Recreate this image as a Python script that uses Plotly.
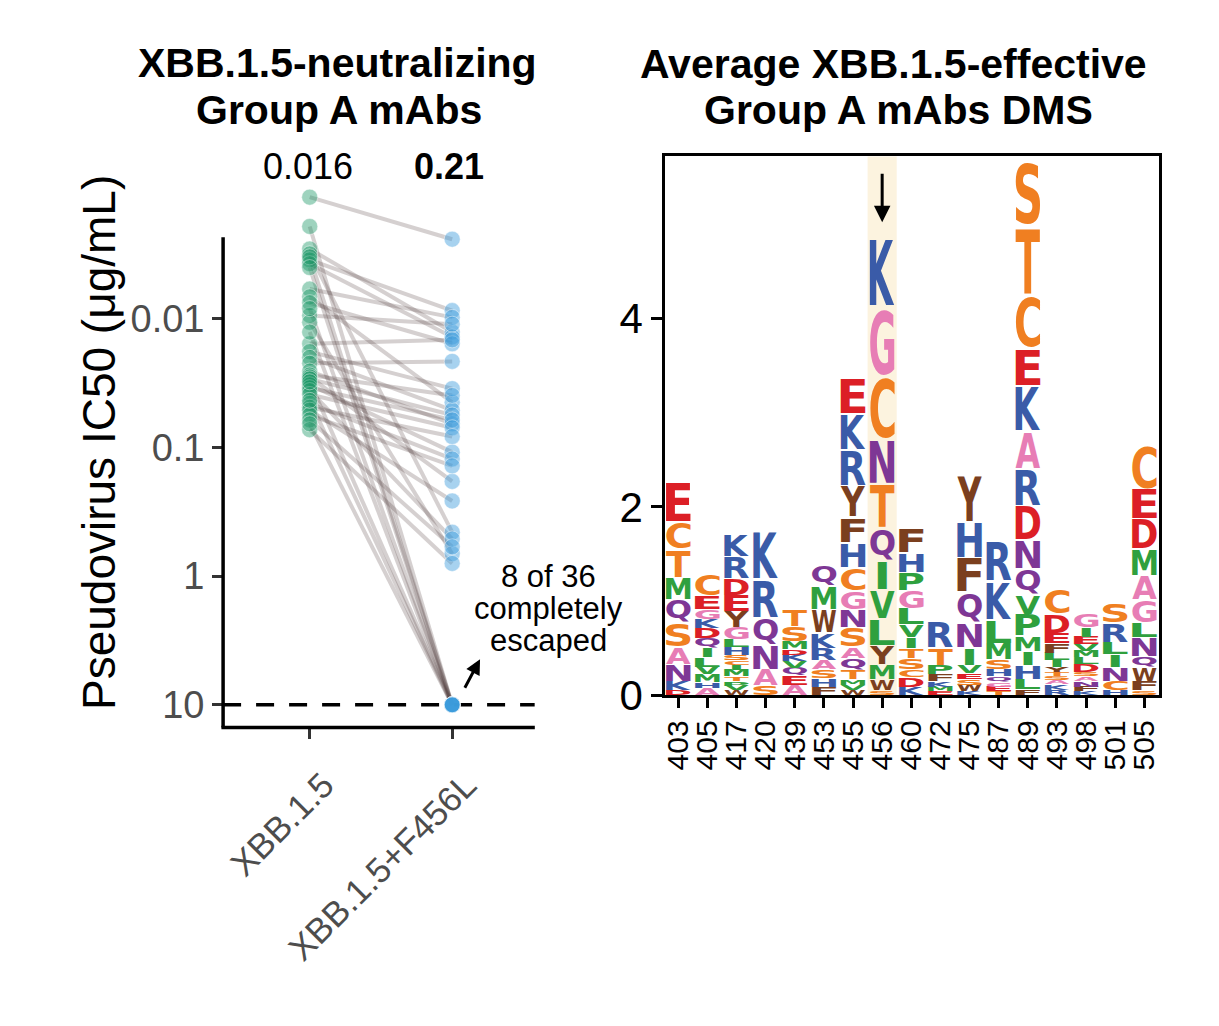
import plotly.graph_objects as go

# ---------------- data: left panel (IC50, ug/mL), index-paired ----------------
groups = ["XBB.1.5", "XBB.1.5+F456L"]
xbb15_ic50 = [0.00113, 0.00286, 0.00312, 0.00347, 0.00372, 0.00586, 0.00673, 0.00748,
              0.00939, 0.01062, 0.01560, 0.01795, 0.01992, 0.02212, 0.02544, 0.02728,
              0.02825, 0.02925, 0.03251, 0.03426, 0.03609, 0.03870, 0.04530, 0.04858,
              0.05118, 0.05585, 0.06095, 0.07261,
              0.00191, 0.00329, 0.00399, 0.00831, 0.01265, 0.03083, 0.04299, 0.06536]
f456l_ic50 = [0.00240, 0.01265, 0.4550, 0.00861, 0.01380, 0.00973, 0.04448, 0.01560,
              0.01099, 0.6686, 0.01454, 0.03484, 0.05118, 0.02138, 0.06536, 0.03937,
              0.1834, 0.05585, 0.1086, 0.06095, 0.5140, 0.07015, 0.1227, 0.08205,
              0.2601, 0.1387, 0.5916, 0.7960,
              10, 10, 10, 10, 10, 10, 10, 10]
geo_means = ["0.016", "<b>0.21</b>"]
y_ticks = [0.01, 0.1, 1, 10]
y_ticktext = ["0.01", "0.1", "1", "10"]

# ---------------- data: right panel (logo), letters listed top -> bottom ----------------
sites = ["403", "405", "417", "420", "439", "453", "455", "456", "460",
         "472", "475", "487", "489", "493", "498", "501", "505"]
logo_letters = ["ECTMQSANKD", "CEGKDQILVMHA", "KRDEYGLHSCIMTPVW", "KRQNAS",
                "TSMDKVQEA", "QMWKRASHF", "EKRYFHCGNSAQTMVW", "KGCNTQIVLYMWS",
                "FHPGLVITSCDK", "RTPFKME", "YHFQNIVESWK", "RKLMSHQGET",
                "STCEKARDNQVPMIHLF", "CDEFLIYTSAKR", "GIEVMLDSANFK", "SRLINCH",
                "CEDMAGLNQWFS"]
logo_heights = [
    [.42, .29, .30, .23, .25, .26, .18, .18, .10, .05],
    [.23, .14, .10, .10, .11, .10, .10, .10, .08, .08, .06, .08],
    [.23, .23, .18, .17, .17, .13, .08, .08, .06, .05, .05, .07, .05, .05, .05, .05],
    [.52, .41, .28, .27, .17, .10],
    [.18, .16, .08, .06, .07, .07, .08, .10, .11],
    [.21, .25, .25, .16, .13, .10, .09, .09, .09],
    [.38, .38, .38, .33, .27, .27, .24, .20, .19, .21, .12, .12, .10, .06, .06, .05],
    [.73, .74, .67, .47, .47, .35, .30, .31, .28, .20, .16, .12, .05],
    [.27, .21, .19, .19, .17, .13, .12, .11, .12, .08, .10, .09],
    [.28, .18, .10, .07, .06, .05, .04],
    [.50, .38, .36, .33, .27, .18, .09, .06, .06, .07, .04],
    [.42, .41, .25, .17, .11, .07, .06, .05, .05, .04],
    [.68, .73, .57, .40, .48, .40, .39, .36, .31, .27, .21, .23, .16, .15, .15, .11, .06],
    [.28, .20, .11, .10, .08, .07, .05, .05, .04, .04, .06, .06],
    [.15, .10, .08, .07, .07, .07, .08, .05, .05, .06, .05, .04],
    [.21, .21, .13, .13, .15, .10, .05],
    [.48, .32, .32, .28, .26, .24, .16, .20, .11, .15, .10, .05],
]
highlight_site = "456"

aa_colors = {}
for aas, col in [("DE", "#DC1F26"), ("HKR", "#3A5BA8"), ("NQ", "#7E3795"),
                 ("GA", "#E77DB5"), ("STC", "#F07F21"), ("VLIMP", "#2FA03E"),
                 ("FYW", "#7B3F1E")]:
    for a in aas:
        aa_colors[a] = col

W, H = 1219, 1026
FONT = "Liberation Sans, Arial, Helvetica, sans-serif"


def px(x):
    return x / W


def py(y):
    return 1 - y / H


fig = go.Figure()

# ---- left panel: paired lines ----
for a, b in zip(xbb15_ic50, f456l_ic50):
    fig.add_trace(go.Scatter(x=[0, 1], y=[a, b], mode="lines",
                             line=dict(color="rgba(80,60,60,0.24)", width=4),
                             hoverinfo="skip", showlegend=False,
                             xaxis="x", yaxis="y"))
# dashed detection limit
fig.add_trace(go.Scatter(x=[-0.608, 1.58], y=[10, 10], mode="lines",
                         line=dict(color="black", width=3.5, dash="18px,15px"),
                         hoverinfo="skip", showlegend=False, xaxis="x", yaxis="y"))
fig.add_trace(go.Scatter(x=[0] * len(xbb15_ic50), y=xbb15_ic50, mode="markers",
                         marker=dict(size=16, color="rgba(25,150,100,0.42)",
                                     line=dict(width=1, color="rgba(255,255,255,0.45)")),
                         showlegend=False, cliponaxis=False, xaxis="x", yaxis="y"))
fig.add_trace(go.Scatter(x=[1] * len(f456l_ic50), y=f456l_ic50, mode="markers",
                         marker=dict(size=16, color="rgba(60,155,220,0.45)",
                                     line=dict(width=1, color="rgba(255,255,255,0.45)")),
                         showlegend=False, cliponaxis=False, xaxis="x", yaxis="y"))

# ---- right panel: logo letters ----
lx, ly, lt, lc, lcd = [], [], [], [], []
letter_width = 0.84
vpad = 0.06
for i, (letters, heights) in enumerate(zip(logo_letters, logo_heights)):
    base = 0.0
    for letter, h in zip(reversed(letters), reversed(heights)):
        y0 = base + h * vpad / 2
        y1 = base + h - h * vpad / 2
        lx.append(i)
        ly.append((y0 + y1) / 2)
        lt.append(letter)
        lc.append(aa_colors[letter])
        lcd.append([i, y0, y1, letter_width])
        base += h

fig.add_trace(go.Scatter(x=lx, y=ly, mode="text", text=lt, name="logo",
                         customdata=lcd, textposition="middle center",
                         textfont=dict(family="DejaVu Sans", size=20, color=lc, weight="bold"),
                         hoverinfo="skip", showlegend=False, cliponaxis=False,
                         xaxis="x2", yaxis="y2"))

hi = sites.index(highlight_site)
fig.add_shape(type="rect", xref="x2", yref="y2", x0=hi - 0.5, x1=hi + 0.5, y0=0, y1=5.72,
              fillcolor="#FCF3DF", line=dict(width=0), layer="below")

# left-panel axis lines (shorter than the data range, as in the original)
fig.add_shape(type="line", xref="paper", yref="paper", x0=px(220), x1=px(220),
              y0=py(745), y1=py(243), line=dict(color="black", width=3.5))
fig.add_shape(type="line", xref="paper", yref="paper", x0=px(218.3), x1=px(533),
              y0=py(745), y1=py(745), line=dict(color="black", width=3.5))

axis_common = dict(showgrid=False, zeroline=False, ticks="outside")

fig.update_layout(
    width=W, height=H, margin=dict(l=0, r=0, t=0, b=0),
    paper_bgcolor="white", plot_bgcolor="rgba(0,0,0,0)", showlegend=False,
    font=dict(family=FONT, color="black"),
    xaxis=dict(axis_common, domain=[px(220), px(533)], range=[-0.608, 1.58],
               tickvals=[0, 1], ticktext=groups, tickangle=-45, showline=False,
               ticklen=10, tickwidth=3, tickcolor="#333",
               ticklabelstandoff=12, ticklabelshift=14,
               tickfont=dict(size=35, color="#4d4d4d", family=FONT), anchor="y"),
    yaxis=dict(axis_common, domain=[py(745), py(190)], type="log", range=[1.177, -3.037],
               tickvals=y_ticks, ticktext=y_ticktext, showline=False,
               ticklen=10, tickwidth=3, tickcolor="#333",
               tickfont=dict(size=38, color="#4d4d4d", family=FONT), anchor="x"),
    xaxis2=dict(axis_common, domain=[px(664), px(1160)], range=[-0.444, 16.51],
                tickvals=list(range(len(sites))), ticktext=sites, tickangle=-90,
                showline=True, linecolor="black",
                mirror=True, linewidth=3, ticklen=10, tickwidth=3, tickcolor="black",
                tickfont=dict(size=30, color="black", family=FONT), anchor="y2"),
    yaxis2=dict(axis_common, domain=[py(712), py(160)], range=[0, 5.72],
                tickvals=[0, 2, 4], ticktext=["0", "2", "4"],
                showline=True, linecolor="black",
                mirror=True, linewidth=3, ticklen=11, tickwidth=3, tickcolor="black",
                tickfont=dict(size=42, color="black", family=FONT), anchor="x2"),
)

ann = []
def text_ann(x, y, text, size, **kw):
    d = dict(xref="paper", yref="paper", x=px(x), y=py(y), text=text, showarrow=False,
             font=dict(size=size, color="black", family=FONT),
             xanchor="center", yanchor="middle")
    d.update(kw)
    ann.append(d)

text_ann(335, 65, "<b>XBB.1.5-neutralizing</b>", 41)
text_ann(336, 113, "<b>Group A mAbs</b>", 41)
text_ann(893, 66, "<b>Average XBB.1.5-effective</b>", 41)
text_ann(898, 113, "<b>Group A mAbs DMS</b>", 41)
text_ann(305, 171, geo_means[0], 36)
text_ann(447, 171, geo_means[1], 36)
text_ann(96, 453, "Pseudovirus IC50 (μg/mL)", 46, textangle=-90)
text_ann(547, 590, "8 of 36", 31)
text_ann(547, 623, "completely", 31)
text_ann(547, 656, "escaped", 31)
# arrow to escaped point
ann.append(dict(xref="paper", yref="paper", x=px(478), y=py(675), ax=-16, ay=30,
                showarrow=True, arrowhead=2, arrowsize=1, arrowwidth=3, arrowcolor="black",
                text=""))
# arrow in highlighted column
ann.append(dict(xref="x2", yref="y2", x=hi, y=5.02, ax=0, ay=-50,
                showarrow=True, arrowhead=2, arrowsize=1.1, arrowwidth=3, arrowcolor="black",
                text=""))
fig.update_layout(annotations=ann)

JS = r"""
var gd = document.getElementById('{plot_id}');
function stretchLogo() {
  try {
    var fl = gd._fullLayout;
    if (!fl) return;
    var xa = fl.xaxis2, ya = fl.yaxis2;
    var svg = gd.querySelector('svg.main-svg');
    var rootCTM = svg.getScreenCTM();
    var cv = document.createElement('canvas');
    var ctx = cv.getContext('2d');
    var traces = gd.querySelectorAll('.scatterlayer .trace');
    traces.forEach(function(tg) {
      var cd = tg.__data__;
      if (!cd || !cd[0] || !cd[0].trace) return;
      var tr = cd[0].trace;
      if (tr.name !== 'logo') return;
      var cdat = tr.customdata || (tr._input && tr._input.customdata);
      var pts = tg.querySelectorAll('g.textpoint');
      pts.forEach(function(pg, k) {
        var t = pg.querySelector('text');
        if (!t) return;
        var d = pg.__data__;
        var idx = (d && typeof d.i === 'number') ? d.i : k;
        var c = cdat[idx];
        t.removeAttribute('transform');
        var letter = t.textContent;
        var cs = window.getComputedStyle(t);
        var fs = parseFloat(cs.fontSize);
        ctx.font = cs.fontWeight + ' 100px ' + cs.fontFamily;
        var m = ctx.measureText(letter);
        var mE = ctx.measureText('E');
        var s = fs / 100;
        var p = t.getStartPositionOfChar(0);
        var ix0 = p.x - m.actualBoundingBoxLeft * s;
        var ix1 = p.x + m.actualBoundingBoxRight * s;
        var iy0 = p.y - m.actualBoundingBoxAscent * s;
        var iy1 = p.y + m.actualBoundingBoxDescent * s;
        var eW = (mE.actualBoundingBoxLeft + mE.actualBoundingBoxRight) * s;
        var X0 = xa._offset + xa.c2p(c[0] - c[3] / 2);
        var X1 = xa._offset + xa.c2p(c[0] + c[3] / 2);
        var Y0 = ya._offset + ya.c2p(c[2]);
        var Y1 = ya._offset + ya.c2p(c[1]);
        var M = pg.getScreenCTM().inverse().multiply(rootCTM);
        var a = svg.createSVGPoint(); a.x = X0; a.y = Y0; a = a.matrixTransform(M);
        var b = svg.createSVGPoint(); b.x = X1; b.y = Y1; b = b.matrixTransform(M);
        var tw = b.x - a.x;
        var sx = Math.min(tw / (ix1 - ix0), tw / eW);
        var sy = (b.y - a.y) / (iy1 - iy0);
        var tx = (a.x + b.x) / 2 - sx * (ix0 + ix1) / 2;
        var ty = a.y - sy * iy0;
        t.setAttribute('transform', 'matrix(' + [sx, 0, 0, sy, tx, ty].join(' ') + ')');
      });
    });
  } catch (e) { console.log(e); }
}
stretchLogo();
gd.on('plotly_afterplot', stretchLogo);
"""

fig.write_html("out.html", include_plotlyjs=True, post_script=JS,
               config={"displayModeBar": False, "responsive": False})
